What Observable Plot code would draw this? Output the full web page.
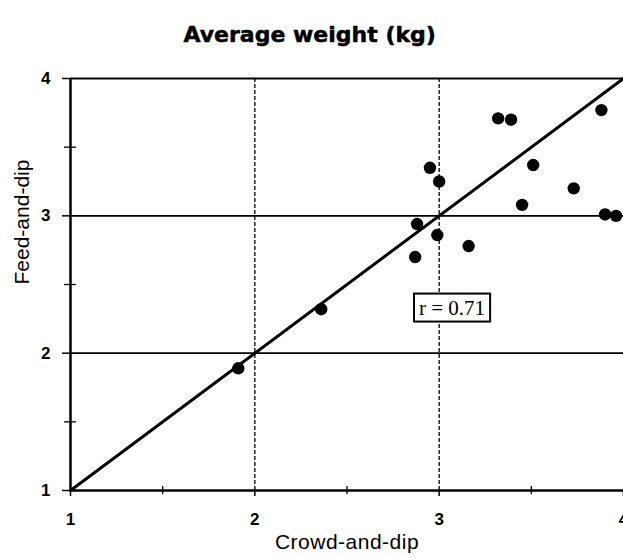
<!DOCTYPE html>
<html>
<head>
<meta charset="utf-8">
<script src="https://cdn.jsdelivr.net/npm/d3@7"></script>
<script src="https://cdn.jsdelivr.net/npm/@observablehq/plot@0.6"></script>
<style>
  html, body { margin: 0; padding: 0; background: #fff; }
  #chart svg { display: block; overflow: visible; }
</style>
</head>
<body>
<div id="chart"></div>
<script>
// ---- data ----
const titleText = ["Average weight (kg)"];
const xLabel = ["Crowd-and-dip"];
const yLabel = ["Feed-and-dip"];
const crowdAndDip = [1.91, 2.36, 2.87, 2.88, 2.99, 3.16, 3.45, 3.90, 3.96, 3.32, 3.39, 3.88, 2.95, 3.00, 3.51, 3.73];
const feedAndDip  = [1.89, 2.32, 2.70, 2.94, 2.86, 2.78, 3.08, 3.01, 3.00, 3.71, 3.70, 3.77, 3.35, 3.25, 3.37, 3.20];
const majorTicks = [1, 2, 3, 4];
const minorTicks = [1.5, 2.5, 3.5];
const gridValues = [2, 3];
const identityLine = [1, 4];
const annotText = ["r = 0.71"];
const annotX = [3.07];
const annotY = [2.33];

const points = crowdAndDip.map((c, i) => ({x: c, y: feedAndDip[i]}));
const annot = annotText.map((t, i) => ({text: t, x: annotX[i], y: annotY[i]}));

const sans = "'Liberation Sans', Arial, Helvetica, sans-serif";

const chart = Plot.plot({
  width: 623,
  height: 558,
  marginLeft: 70,
  marginRight: 0,
  marginTop: 78,
  marginBottom: 68,
  style: {fontFamily: sans, fontSize: "17px", fontWeight: "bold", background: "#fff", color: "#000"},
  x: {domain: [1, 4]},
  y: {domain: [1, 4]},
  marks: [
    // grid lines
    Plot.ruleX(gridValues, {stroke: "#000", strokeWidth: 1.3, strokeDasharray: "4,2"}),
    Plot.ruleY(gridValues, {stroke: "#000", strokeWidth: 1.8}),
    // frame lines
    Plot.ruleY([4], {stroke: "#000", strokeWidth: 2.2}),
    Plot.ruleY([1], {stroke: "#000", strokeWidth: 2.5}),
    Plot.ruleX([1], {stroke: "#000", strokeWidth: 2.5}),
    // axes
    Plot.axisX({ticks: majorTicks, tickSize: 6, tickPadding: 16, tickFormat: d3.format("d"),
      fontSize: 17, fontWeight: "bold", label: null, strokeWidth: 1.5}),
    Plot.axisX({ticks: minorTicks, tickSize: 8, dy: -4, tickFormat: () => "", label: null, strokeWidth: 1.3}),
    Plot.axisY({ticks: majorTicks, tickSize: 8, tickPadding: 12, tickFormat: d3.format("d"),
      fontSize: 17, fontWeight: "bold", label: null, strokeWidth: 1.5}),
    Plot.axisY({ticks: minorTicks, tickSize: 12, dx: 6, tickFormat: () => "", label: null, strokeWidth: 1.3}),
    // identity line
    Plot.line(identityLine, {x: d => d, y: d => d, stroke: "#000", strokeWidth: 3}),
    // points
    Plot.dot(points, {x: "x", y: "y", r: 6.2, fill: "#000", stroke: "none"}),
    // annotation
    Plot.text(annot, {x: "x", y: "y", text: "text", fontFamily: "'Liberation Serif', 'Times New Roman', serif",
      fontSize: 21, fontWeight: "normal", fill: "#000"}),
    // labels
    Plot.text(xLabel, {text: d => d, frameAnchor: "bottom", dy: 58, fontSize: 21, fontWeight: "normal", fill: "#000"}),
    Plot.text(yLabel, {text: d => d, frameAnchor: "left", dx: -48, rotate: -90, fontSize: 21, fontWeight: "normal", fill: "#000"}),
    Plot.text(titleText, {text: d => d, frameAnchor: "top-left", textAnchor: "start", dx: 113, dy: -52,
      fontSize: 22, fontWeight: "bold", fontFamily: "'DejaVu Sans', sans-serif", fill: "#000",
      stroke: "#000", strokeWidth: 0.5})
  ]
});

document.getElementById("chart").appendChild(chart);

// enforce tick label font size directly on the tick label texts
chart.querySelectorAll('g[aria-label$="tick label"] text').forEach(t => {
  t.style.fontSize = "17px";
  t.style.fontWeight = "bold";
});
// slight letter spacing on the x axis title
chart.querySelectorAll("text").forEach(t => {
  if (xLabel.includes(t.textContent)) t.setAttribute("letter-spacing", "0.5");
});

// white box with border behind the annotation text
chart.querySelectorAll("text").forEach(t => {
  if (annotText.includes(t.textContent)) {
    const b = t.getBBox();
    const rect = document.createElementNS("http://www.w3.org/2000/svg", "rect");
    const padX = 5, padY = 2;
    rect.setAttribute("x", b.x - padX);
    rect.setAttribute("y", b.y - padY);
    rect.setAttribute("width", b.width + 2 * padX);
    rect.setAttribute("height", b.height + 2 * padY);
    rect.setAttribute("fill", "#fff");
    rect.setAttribute("stroke", "#000");
    rect.setAttribute("stroke-width", 2);
    const tr = t.getAttribute("transform");
    if (tr) rect.setAttribute("transform", tr);
    t.parentNode.insertBefore(rect, t);
  }
});
</script>
</body>
</html>
